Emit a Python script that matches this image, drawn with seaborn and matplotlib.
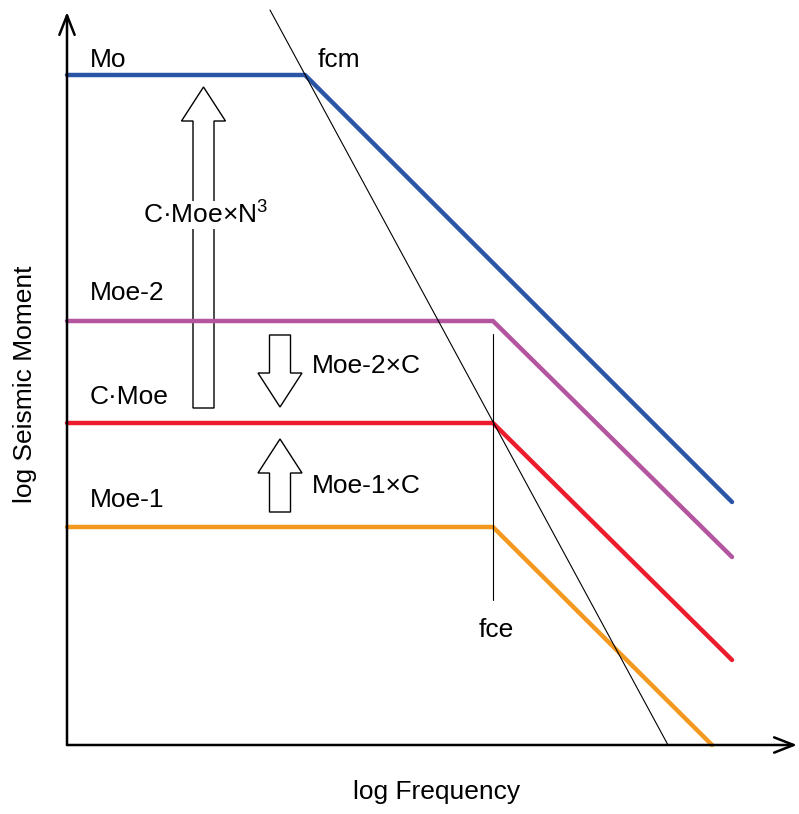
import numpy as np
import pandas as pd
import matplotlib
matplotlib.use("Agg")
import matplotlib.pyplot as plt
import seaborn as sns
from matplotlib.patches import FancyArrow

# Spectrum curves (log f, log M0), schematic units
blue_x = [0.0, 2.38, 6.65]
blue_y = [6.70, 6.70, 2.43]
purple_x = [0.0, 4.26, 6.65]
purple_y = [4.24, 4.24, 1.88]
red_x = [0.0, 4.26, 6.65]
red_y = [3.22, 3.22, 0.85]
orange_x = [0.0, 4.26, 6.45]
orange_y = [2.18, 2.18, 0.0]

# corner-frequency line and fce marker
corner_x = [2.03, 6.01]
corner_y = [7.35, 0.0]
fce_x = 4.26
fce_y = [1.45, 4.11]

curve_names = ["Mo", "Moe-2", "C·Moe", "Moe-1"]
curve_colors = ["#2a55a6", "#b4559f", "#ec1c2c", "#f4991f"]

sns.set_style("white")
plt.rcParams["font.family"] = ["Liberation Sans", "DejaVu Sans"]
plt.rcParams["mathtext.default"] = "regular"
plt.rcParams["text.color"] = "black"

df = pd.concat([
    pd.DataFrame({"x": blue_x, "y": blue_y, "curve": curve_names[0]}),
    pd.DataFrame({"x": purple_x, "y": purple_y, "curve": curve_names[1]}),
    pd.DataFrame({"x": red_x, "y": red_y, "curve": curve_names[2]}),
    pd.DataFrame({"x": orange_x, "y": orange_y, "curve": curve_names[3]}),
])

fig = plt.figure(figsize=(7.99, 8.14), dpi=100)
ax = fig.add_axes([0, 0, 1, 1])

sns.lineplot(data=df, x="x", y="y", hue="curve", palette=curve_colors,
             sort=False, estimator=None, lw=3.2, legend=False, ax=ax,
             zorder=3)
ax.plot(corner_x, corner_y, color="black", lw=0.8, zorder=4)
ax.plot([fce_x, fce_x], fce_y, color="black", lw=0.8, zorder=4)

# axes with open arrow heads
ax.annotate("", xy=(7.30, 0), xytext=(0, 0),
            arrowprops=dict(arrowstyle="->,head_length=1.4,head_width=0.55",
                            lw=1.8, color="black", shrinkA=0, shrinkB=0))
ax.annotate("", xy=(0, 7.33), xytext=(0, 0),
            arrowprops=dict(arrowstyle="->,head_length=1.4,head_width=0.55",
                            lw=1.8, color="black", shrinkA=0, shrinkB=0))

# hollow block arrows
for x0, y0, dy in [(1.365, 3.37, 3.21), (2.13, 4.10, -0.72), (2.13, 2.33, 0.73)]:
    ax.add_patch(FancyArrow(x0, y0, 0, dy, width=0.21, head_width=0.44,
                            head_length=0.34, length_includes_head=True,
                            facecolor="white", edgecolor="black", lw=1.0,
                            zorder=2))

fs = 19
ax.text(0.23, 6.85, "Mo", fontsize=fs, va="center")
ax.text(2.51, 6.85, "fcm", fontsize=fs, va="center")
ax.text(0.23, 4.52, "Moe-2", fontsize=fs, va="center")
ax.text(0.23, 3.48, "C·Moe", fontsize=fs, va="center")
ax.text(0.23, 2.45, "Moe-1", fontsize=fs, va="center")
ax.text(4.12, 1.15, "fce", fontsize=fs, va="center")
ax.text(2.45, 3.79, "Moe-2×C", fontsize=fs, va="center")
ax.text(2.45, 2.59, "Moe-1×C", fontsize=fs, va="center")
ax.text(0.76, 5.30, "C·Moe×N$^{3}$", fontsize=fs, va="center", zorder=5,
        bbox=dict(facecolor="white", edgecolor="none", pad=0.5))

ax.text(3.70, -0.47, "log Frequency", fontsize=fs, ha="center", va="center")
ax.text(-0.42, 3.61, "log Seismic Moment", fontsize=fs, ha="center",
        va="center", rotation=90)

ax.set_xlim(-0.67, 7.32)
ax.set_ylim(-0.69, 7.45)
ax.set_axis_off()

fig.savefig("out.png", dpi=100)
